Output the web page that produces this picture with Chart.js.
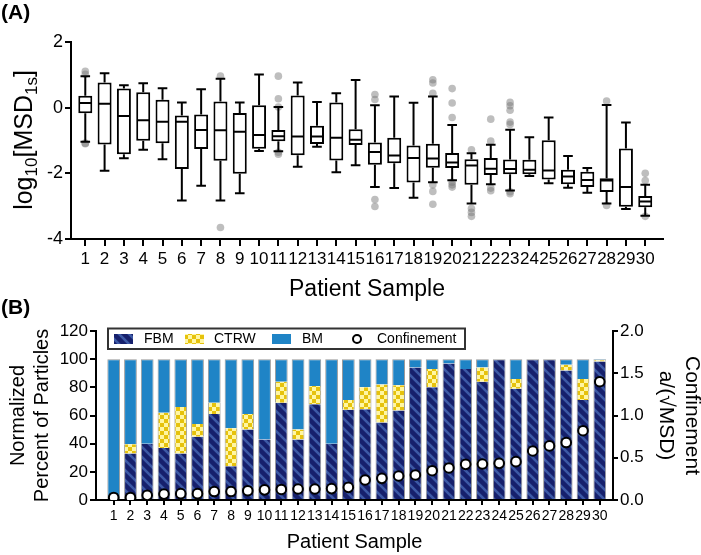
<!DOCTYPE html>
<html><head><meta charset="utf-8">
<script src="https://cdn.jsdelivr.net/npm/chart.js@4.4.0/dist/chart.umd.min.js"></script>
<style>
html,body{margin:0;padding:0;background:#fff;}
#wrap{position:relative;width:701px;height:555px;overflow:hidden;background:#fff;}
#ca{position:absolute;left:0;top:0;}
#cb{position:absolute;left:0;top:295px;}
</style></head><body>
<div id="wrap"><canvas id="ca" width="701" height="305"></canvas><canvas id="cb" width="701" height="260"></canvas></div>
<script>
// ---------- data ----------
const samples = [1,2,3,4,5,6,7,8,9,10,11,12,13,14,15,16,17,18,19,20,21,22,23,24,25,26,27,28,29,30];

// Panel A: log10[MSD1s] box plots
const whiskerLow  = [-1.04,-1.92,-1.54,-1.28,-1.57,-2.83,-2.38,-2.83,-2.61,-1.32,-1.33,-1.80,-1.19,-1.97,-1.75,-2.42,-2.45,-2.74,-2.27,-2.21,-2.92,-2.33,-2.52,-2.08,-2.30,-2.44,-2.59,-2.92,-3.09,-3.29];
const boxQ1       = [-0.17,-1.12,-1.42,-1.01,-1.08,-1.87,-1.26,-1.62,-2.01,-1.25,-1.02,-1.45,-1.11,-1.61,-1.14,-1.74,-1.69,-2.28,-1.83,-1.84,-2.35,-2.05,-2.03,-2.03,-2.19,-2.33,-2.42,-2.57,-3.02,-3.03];
const boxMedian   = [0.14,0.12,-0.25,-0.38,-0.43,-0.43,-0.68,-0.69,-0.73,-0.83,-0.87,-0.88,-0.88,-0.92,-0.98,-1.35,-1.46,-1.53,-1.55,-1.67,-1.76,-1.86,-1.87,-1.89,-1.91,-2.10,-2.20,-2.22,-2.42,-2.86];
const boxQ3       = [0.36,0.77,0.58,0.47,0.24,-0.24,-0.21,0.19,-0.16,0.07,-0.68,0.37,-0.55,0.16,-0.66,-1.06,-0.92,-1.15,-1.10,-1.38,-1.57,-1.53,-1.58,-1.59,-0.99,-1.89,-1.95,-2.15,-1.24,-2.69];
const whiskerHigh = [0.96,1.05,0.68,0.74,0.59,0.16,0.56,0.88,0.16,1.01,0.02,0.77,0.17,0.44,0.84,0.07,0.34,0.15,0.34,-0.53,-1.39,-1.13,-0.67,-0.90,-0.30,-1.47,-1.84,0.08,-0.45,-2.35];
const outliers = [
  [1.11,1.02,-1.08,-1.10],[],[],[],[],[],[],[0.96,-3.65],[],[],
  [0.96,0.27,0.02,-1.36,-1.42],[],[],[],[],[0.40,0.25,-2.80,-3.01],[],[],[0.85,0.75,0.44,-2.35,-2.55,-2.94],[0.58,0.14,-0.30,-2.27,-2.35,-2.42],
  [-1.28,-3.07,-3.19,-3.31],[-0.35,-1.02,-2.45,-2.53],[0.16,0.06,-0.08,-0.44,-0.51,-2.56,-2.62],[],[],[],[],[0.20,-2.98],[],[-2.00,-2.22,-3.31]
];
const yTicksA = [-4,-2,0,2];

// Panel B: normalized percent of particles + confinement
const fbm  = [0,33,40,37,33,45,61,24,50,43,69,43,68,40,64,64.5,55,63.5,94,80,97,93,84,100,79,100,100,92,71,98.3];
const ctrw = [0,6.5,0,25,33,9,8,27,11,0,15,7,13,0,7,15.5,27,18,0,13,0,0,10,0,7,0,0,4,15,1];
const bm   = [100,60.5,60,38,34,46,31,49,39,57,16,50,19,60,29,20,18,18.5,6,7,3,7,6,0,14,0,0,4,14,0.7];
const confinement = [0.03,0.03,0.055,0.07,0.075,0.075,0.10,0.10,0.11,0.12,0.125,0.13,0.13,0.135,0.15,0.237,0.256,0.284,0.296,0.347,0.379,0.422,0.426,0.434,0.454,0.58,0.64,0.68,0.82,1.40];
const legendLabels = ['FBM','CTRW','BM','Confinement'];

// ---------- styling ----------
const FONT = "'Liberation Sans', Arial, Helvetica, sans-serif";
Chart.defaults.font.family = FONT;
Chart.defaults.color = '#000';
const BM_BLUE = '#1f84c6';

function makeStripe(ctx){
  const t=document.createElement('canvas'); t.width=10; t.height=10;
  const c=t.getContext('2d');
  c.fillStyle='#16206c'; c.fillRect(0,0,10,10);
  c.strokeStyle='#3d5aa6'; c.lineWidth=2.6;
  for(let k=-1;k<=1;k++){c.beginPath(); c.moveTo(k*10-2,-2); c.lineTo(k*10+12,12); c.stroke();}
  return ctx.createPattern(t,'repeat');
}
function makeChecker(ctx){
  const t=document.createElement('canvas'); t.width=8; t.height=8;
  const c=t.getContext('2d');
  c.fillStyle='#fff6a2'; c.fillRect(0,0,8,8);
  c.fillStyle='#e6c20c'; c.fillRect(0,0,4,4); c.fillRect(4,4,4,4);
  return ctx.createPattern(t,'repeat');
}

const axisCommon = {
  grid:{display:true, drawOnChartArea:false, drawTicks:true, color:'#000', lineWidth:2},
  border:{display:true, color:'#000', width:2}
};

// ---------- Panel A ----------
const boxPlugin = {
  id:'boxWhiskers',
  afterDatasetsDraw(chart){
    const {ctx, scales:{x,y}} = chart;
    const meta = chart.getDatasetMeta(0);
    ctx.save();
    ctx.strokeStyle='#000'; ctx.lineWidth=2;
    samples.forEach((s,i)=>{
      const px = x.getPixelForValue(s);
      const bw = meta.data[i].width;
      const cap = 4.8;
      const yq1=y.getPixelForValue(boxQ1[i]), yq3=y.getPixelForValue(boxQ3[i]);
      const ym=y.getPixelForValue(boxMedian[i]);
      const ylo=y.getPixelForValue(whiskerLow[i]), yhi=y.getPixelForValue(whiskerHigh[i]);
      ctx.beginPath();
      ctx.moveTo(px,yq3); ctx.lineTo(px,yhi);
      ctx.moveTo(px,yq1); ctx.lineTo(px,ylo);
      ctx.moveTo(px-cap,yhi); ctx.lineTo(px+cap,yhi);
      ctx.moveTo(px-cap,ylo); ctx.lineTo(px+cap,ylo);
      ctx.moveTo(px-bw/2+1,ym); ctx.lineTo(px+bw/2-1,ym);
      ctx.stroke();
    });
    ctx.restore();
  },
  afterDraw(chart){
    const ctx = chart.ctx;
    ctx.save();
    ctx.fillStyle='#000';
    ctx.font = 'bold 21px '+FONT;
    ctx.textBaseline='alphabetic';
    ctx.fillText('(A)', 1, 19);
    // rotated y title with subscripts
    const segs = [['log',25,0],['10',17,5],['[MSD',25,0],['1s',17,5],[']',25,0]];
    ctx.translate(24,140);
    ctx.rotate(-Math.PI/2);
    let total=0;
    segs.forEach(s=>{ctx.font=s[1]+'px '+FONT; total+=ctx.measureText(s[0]).width;});
    let xx=-total/2;
    segs.forEach(s=>{ctx.font=s[1]+'px '+FONT; ctx.fillText(s[0],xx,8+s[2]); xx+=ctx.measureText(s[0]).width;});
    ctx.restore();
  }
};

const outlierPts = [];
samples.forEach((s,i)=>outliers[i].forEach(v=>outlierPts.push({x:s,y:v})));

new Chart(document.getElementById('ca'), {
  type:'bar',
  data:{datasets:[
    {label:'box', data:samples.map((s,i)=>({x:s,y:[boxQ1[i],boxQ3[i]]})),
     backgroundColor:'#fff', borderColor:'#000', borderWidth:2, borderSkipped:false,
     barPercentage:0.725, categoryPercentage:1, order:1},
    {type:'scatter', label:'outliers', data:outlierPts, pointRadius:3.8, pointBorderWidth:0,
     backgroundColor:'rgba(120,120,120,0.48)', borderColor:'rgba(0,0,0,0)', order:2}
  ]},
  options:{
    responsive:false, animation:false, devicePixelRatio:1,
    layout:{padding:{top:42,left:0,right:38,bottom:0}},
    plugins:{legend:{display:false}, tooltip:{enabled:false}},
    scales:{
      x:{type:'linear', min:0.26, max:30.92, offset:false, ...axisCommon,
         grid:{...axisCommon.grid, offset:false, tickLength:7},
         afterBuildTicks:a=>{a.ticks = samples.map(v=>({value:v}));},
         afterFit:s=>{s.height=66;},
         ticks:{autoSkip:false, maxRotation:0, minRotation:0, padding:3, font:{size:17}, color:'#000'},
         title:{display:true, text:'Patient Sample', font:{size:23}, padding:{top:0,bottom:2}, color:'#000'}},
      y:{type:'linear', min:-4, max:2, ...axisCommon,
         grid:{...axisCommon.grid, tickLength:6},
         afterBuildTicks:a=>{a.ticks = yTicksA.map(v=>({value:v}));},
         afterFit:s=>{s.width=71;},
         ticks:{padding:2, font:{size:18}, color:'#000'}}
    }
  },
  plugins:[boxPlugin]
});

// ---------- Panel B ----------
const ctxB = document.getElementById('cb').getContext('2d');
const fbmPattern = makeStripe(ctxB);
const ctrwPattern = makeChecker(ctxB);

const legendPlugin = {
  id:'boxedLegend',
  afterDraw(chart){
    const ctx = chart.ctx;
    ctx.save();
    ctx.fillStyle='#000';
    ctx.font='bold 21px '+FONT;
    ctx.textBaseline='alphabetic';
    ctx.fillText('(B)', 1, 19);
    ctx.lineWidth=2; ctx.strokeStyle='#333';
    ctx.strokeRect(108, 33.5, 357, 20.5);
    const sy=39, sh=10;
    ctx.fillStyle=fbmPattern; ctx.fillRect(114,sy,19,sh);
    ctx.fillStyle=ctrwPattern; ctx.fillRect(185,sy,19,sh);
    ctx.fillStyle=BM_BLUE; ctx.fillRect(272,sy,19,sh);
    ctx.beginPath(); ctx.arc(357,44,4,0,Math.PI*2);
    ctx.fillStyle='#fff'; ctx.fill(); ctx.lineWidth=2; ctx.strokeStyle='#000'; ctx.stroke();
    ctx.fillStyle='#000'; ctx.font='14px '+FONT; ctx.textBaseline='middle';
    ctx.fillText(legendLabels[0],144,44.5);
    ctx.fillText(legendLabels[1],214,44.5);
    ctx.fillText(legendLabels[2],302,44.5);
    ctx.fillText(legendLabels[3],377,44.5);
    ctx.restore();
  }
};

const barBase = {borderColor:'#9b9b9b', borderSkipped:false, barPercentage:0.76, categoryPercentage:1, stack:'s', order:1};
new Chart(ctxB, {
  type:'bar',
  data:{datasets:[
    {...barBase, label:'FBM', data:samples.map((s,i)=>({x:s,y:fbm[i]})), backgroundColor:fbmPattern,
     borderWidth:c=>({top:(bm[c.dataIndex]===0&&ctrw[c.dataIndex]===0)?1:0,left:1,right:1,bottom:0})},
    {...barBase, label:'CTRW', data:samples.map((s,i)=>({x:s,y:ctrw[i]})), backgroundColor:ctrwPattern,
     borderWidth:c=>({top:bm[c.dataIndex]===0?1:0,left:1,right:1,bottom:0})},
    {...barBase, label:'BM', data:samples.map((s,i)=>({x:s,y:bm[i]})), backgroundColor:BM_BLUE,
     borderWidth:{top:1,left:1,right:1,bottom:0}},
    {type:'scatter', label:'Confinement', data:samples.map((s,i)=>({x:s,y:confinement[i]})), yAxisID:'y2',
     pointRadius:4.8, pointBorderWidth:2, backgroundColor:'#fff', borderColor:'#000', order:0}
  ]},
  options:{
    responsive:false, animation:false, devicePixelRatio:1,
    layout:{padding:{top:36,left:0,right:0,bottom:0}},
    plugins:{legend:{display:false}, tooltip:{enabled:false}},
    scales:{
      x:{type:'linear', min:-0.056, max:30.79, offset:false, stacked:true, ...axisCommon,
         grid:{...axisCommon.grid, offset:false, tickLength:5},
         afterBuildTicks:a=>{a.ticks = samples.map(v=>({value:v}));},
         afterFit:s=>{s.height=55;},
         ticks:{autoSkip:false, maxRotation:0, minRotation:0, padding:3, font:{size:14}, color:'#000'},
         title:{display:true, text:'Patient Sample', font:{size:20}, padding:{top:0,bottom:1}, color:'#000'}},
      y:{type:'linear', position:'left', min:0, max:120, stacked:true, ...axisCommon,
         grid:{...axisCommon.grid, tickLength:6},
         ticks:{stepSize:20, padding:2, font:{size:17}, color:'#000'},
         afterFit:s=>{s.width=96;},
         title:{display:true, text:['Normalized','Percent of Particles'], font:{size:20}, padding:{top:6,bottom:0}, color:'#000'}},
      y2:{type:'linear', position:'right', min:0, max:2, ...axisCommon,
         grid:{...axisCommon.grid, tickLength:5},
         ticks:{stepSize:0.5, padding:2, font:{size:17}, color:'#000', callback:v=>Number(v).toFixed(1)},
         afterFit:s=>{s.width=88;},
         title:{display:true, text:['Confinement','a/(\u221AMSD)'], font:{size:21}, padding:{top:-3,bottom:0}, color:'#000'}}
    }
  },
  plugins:[legendPlugin]
});
</script>
</body></html>
